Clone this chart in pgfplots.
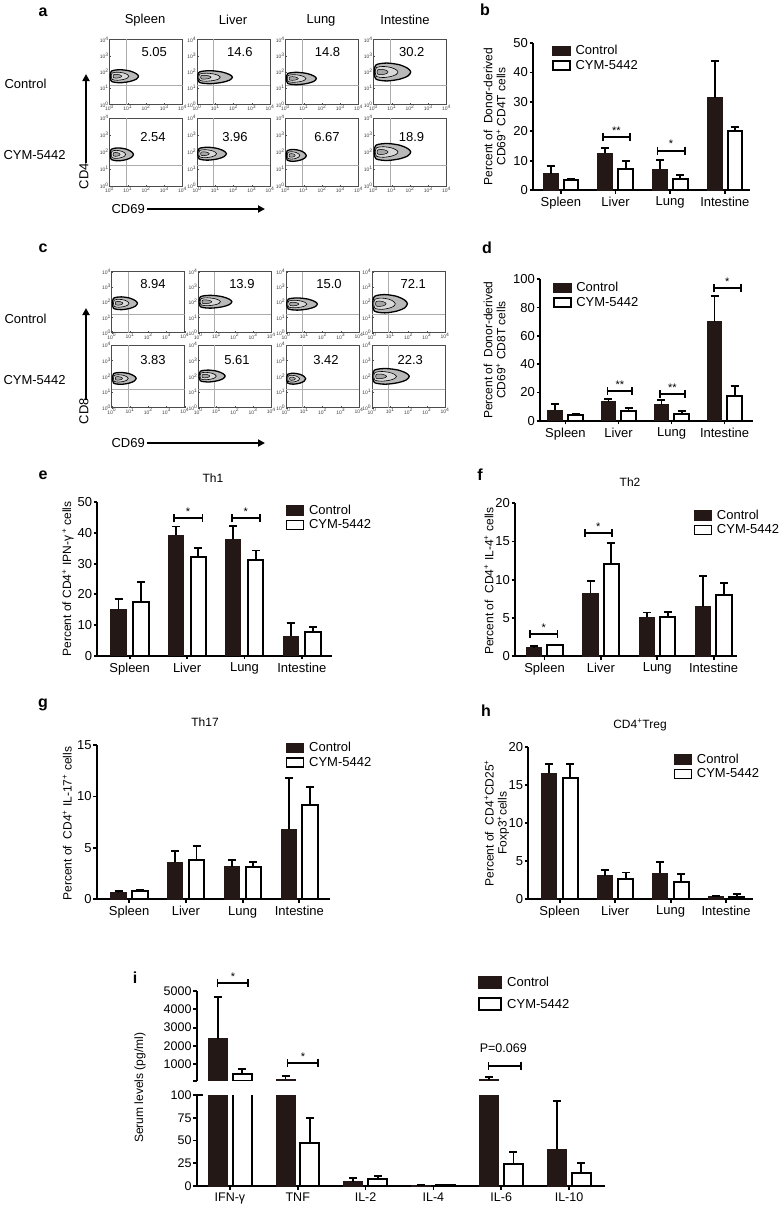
\documentclass[border=0pt]{standalone}
\usepackage{fontspec}
\setmainfont{Liberation Sans}
\usepackage{pgfplots}
\pgfplotsset{compat=1.18}
\usepackage{pgfplotstable}
\usetikzlibrary{arrows.meta}
\definecolor{ctrl}{RGB}{35,24,21}
\newcommand{\fs}[2]{\fontsize{#1}{#2}\selectfont}
\newcommand{\pl}{\textsuperscript{+}}
\newcommand{\tp}[1]{10\textsuperscript{#1}}

\pgfplotstableread{
x c ce m me
0 5.5 2.7 3.3 0.4
1 12.5 1.7 7.0 2.8
2 7.0 3.1 3.6 1.4
3 31.4 12.5 20.1 1.4
}\datab
\pgfplotstableread{
x c ce m me
0 7.5 4.1 4.2 0.5
1 13.4 1.7 7.1 1.9
2 11.3 3.3 4.7 1.9
3 70.0 18.4 17.7 6.8
}\datad
\pgfplotstableread{
x c ce m me
0 15.1 3.4 17.5 6.4
1 39.3 2.8 32.1 3.1
2 37.9 4.5 31.1 3.2
3 6.4 4.3 7.7 1.6
}\datae
\pgfplotstableread{
x c ce m me
0 1.09 0.21 1.4 0.08
1 8.2 1.6 12.0 2.8
2 5.07 0.63 5.15 0.65
3 6.46 4.04 8.0 1.6
}\dataf
\pgfplotstableread{
x c ce m me
0 0.65 0.13 0.78 0.12
1 3.6 1.1 3.8 1.35
2 3.17 0.63 3.1 0.5
3 6.8 4.96 9.17 1.78
}\datag
\pgfplotstableread{
x c ce m me
0 16.57 1.23 15.96 1.84
1 3.08 0.72 2.64 0.86
2 3.4 1.5 2.2 1.05
3 0.3 0.14 0.3 0.36
}\datah
\pgfplotstableread{
x c ce m me
0 2400 2273 472 255
1 190 160 47.6 27.5
2 4.8 3.6 7.3 4.1
3 0.8 0 0.8 0
4 150 170 23.8 13.2
5 40.3 53.1 14 11
}\datai
% normalised contour outline for the flow plots
\pgfplotstableread{
x y
0 0
0.05 -0.8
0.35 -1
0.7 -0.8
0.92 -0.45
1 0
0.92 0.4
0.7 0.8
0.35 1
0.05 0.8
0 0
}\blob

\tikzset{
  ctrlbar/.style={fill=ctrl, draw=ctrl, line width=1pt},
  cymbar/.style={fill=white, draw=black, line width=2pt},
  brk/.style={draw=black, line width=1.8pt, {Bar[width=8pt]}-{Bar[width=8pt]}},
  star/.style={font=\fs{11}{12}, inner sep=1pt},
}
\pgfplotsset{
  barax/.style={
    scale only axis, anchor=south west,
    axis lines=left,
    axis line style={-, line width=1.8pt},
    x axis line style={-}, y axis line style={-},
    every tick/.style={black, line width=1.8pt},
    tick align=outside,
    major tick length=3.5pt,
    xtick={0,1,2,3},
    xticklabels={Spleen,Liver,Lung,Intestine},
    ymin=0, clip=false,
    ybar, bar width=0.27,
    tick label style={font=\fs{13}{15}},
    yticklabel style={inner sep=1.5pt},
    /pgf/number format/assume math mode=true,
    ylabel style={font=\fs{12}{13}, align=center, anchor=center},
    legend image code/.code={\draw[##1,line width=1.6pt] (0pt,-4.5pt) rectangle (17pt,4.5pt); \path (20pt,0pt);},
    legend style={draw=none, fill=none, anchor=north west, font=\fs{13}{15}, row sep=1pt, inner sep=0pt, nodes={inner sep=1.5pt}},
    legend cell align=left,
    error bars/y dir=plus, error bars/y explicit,
    error bars/error bar style={line width=1.8pt, black},
    error bars/error mark options={rotate=90, mark size=4pt, line width=1.8pt, black},
  },
  flowax/.style={
    scale only axis, anchor=south west, width=73pt,
    xmin=0, xmax=4, ymin=0, ymax=4,
    axis line style={gray!60!black, line width=0.6pt},
    xtick={0,...,4}, ytick={0,...,4},
    xticklabels={\tp{0},\tp{1},\tp{2},\tp{3},\tp{4}},
    yticklabels={\tp{0},\tp{1},\tp{2},\tp{3},\tp{4}},
    xtick pos=left, ytick pos=left,
    tick label style={font=\fs{5}{6}, inner sep=0.6pt, text=gray!50!black},
    major tick length=1.5pt,
    every tick/.style={gray!60!black, line width=0.4pt},
    tick align=inside,
  },
}

% #1 left, #2 bottom, #3 height, #4 number, #5 #6 number position, #7 length, #8 centre, #9 half height
\newcommand{\flowbox}[9]{%
\begin{axis}[flowax, at={(#1pt,-#2pt)}, height=#3pt]
\draw[gray!65, line width=0.6pt] (axis cs:0.9,0) -- (axis cs:0.9,4);
\draw[gray!65, line width=0.6pt] (axis cs:0,1.2) -- (axis cs:4,1.2);
\addplot[draw=black, line width=1.3pt, fill=gray!55, smooth] table[x expr=0.04+\thisrow{x}*#7, y expr=#8+\thisrow{y}*#9] {\blob};
\addplot[draw=black, line width=0.6pt, fill=gray!30, smooth] table[x expr=0.1+\thisrow{x}*#7*0.62, y expr=#8+\thisrow{y}*#9*0.62] {\blob};
\addplot[draw=black, line width=0.5pt, fill=gray!70, smooth] table[x expr=0.2+\thisrow{x}*#7*0.3, y expr=#8+\thisrow{y}*#9*0.3] {\blob};
\node[font=\fs{13}{15}] at (axis cs:#5,#6) {#4};
\end{axis}}

\begin{document}
\begin{tikzpicture}
\useasboundingbox (0,0) rectangle (784pt,-1207pt);

% ---------------- panel a ----------------
\node[font=\fs{16}{18}\bfseries] at (43pt,-12pt) {a};
\node[font=\fs{13}{15}] at (145pt,-20pt) {Spleen};
\node[font=\fs{13}{15}] at (233pt,-20pt) {Liver};
\node[font=\fs{13}{15}] at (321pt,-20pt) {Lung};
\node[font=\fs{13}{15}] at (405pt,-20pt) {Intestine};
\node[anchor=west, font=\fs{13}{15}] at (1pt,-84pt) {Control};
\node[anchor=west, font=\fs{13}{15}] at (0pt,-155pt) {CYM-5442};
\draw[line width=1.8pt, -{Triangle[length=7pt,width=7pt]}] (86pt,-163pt) -- (86pt,-74pt);
\node[rotate=90, font=\fs{13}{15}] at (84pt,-176pt) {CD4};
\node[anchor=west, font=\fs{13}{15}] at (108pt,-209pt) {CD69};
\draw[line width=1.8pt, -{Triangle[length=7pt,width=7pt]}] (147pt,-209pt) -- (265pt,-209pt);

\flowbox{109.5}{104.5}{65}{5.05}{2.45}{3.23}{1.55}{1.74}{0.4}
\flowbox{197}{104.5}{65}{14.6}{2.35}{3.23}{1.9}{1.68}{0.4}
\flowbox{285.5}{104.5}{65}{14.8}{2.3}{3.23}{1.65}{1.6}{0.38}
\flowbox{373.5}{104.5}{65}{30.2}{2.1}{3.23}{2.0}{2.0}{0.55}
\flowbox{109.5}{186}{68}{2.54}{2.38}{2.9}{1.27}{1.86}{0.38}
\flowbox{197}{186}{68}{3.96}{2.08}{2.9}{1.57}{1.9}{0.38}
\flowbox{285.5}{186}{68}{6.67}{2.27}{2.9}{1.1}{1.8}{0.35}
\flowbox{373.5}{186}{68}{18.9}{2.08}{2.9}{2.0}{2.0}{0.5}

% ---------------- panel c ----------------
\node[font=\fs{16}{18}\bfseries] at (43pt,-248pt) {c};
\node[anchor=west, font=\fs{13}{15}] at (1pt,-319pt) {Control};
\node[anchor=west, font=\fs{13}{15}] at (0pt,-380pt) {CYM-5442};
\draw[line width=1.8pt, -{Triangle[length=7pt,width=7pt]}] (86pt,-400pt) -- (86pt,-308pt);
\node[rotate=90, font=\fs{13}{15}] at (84pt,-411pt) {CD8};
\node[anchor=west, font=\fs{13}{15}] at (108pt,-443pt) {CD69};
\draw[line width=1.8pt, -{Triangle[length=7pt,width=7pt]}] (147pt,-443pt) -- (265pt,-443pt);

\flowbox{111.7}{332.7}{61}{8.94}{2.26}{3.19}{1.37}{1.93}{0.42}
\flowbox{198.3}{332.7}{61}{13.9}{2.39}{3.19}{1.8}{2.03}{0.42}
\flowbox{286}{332.7}{61}{15.0}{2.36}{3.19}{1.68}{1.88}{0.4}
\flowbox{372}{332.7}{61}{72.1}{2.26}{3.19}{1.9}{1.9}{0.6}
\flowbox{111.7}{407.7}{62.7}{3.83}{2.26}{3.04}{1.3}{1.87}{0.38}
\flowbox{198.3}{407.7}{62.7}{5.61}{2.12}{3.04}{1.43}{2.02}{0.38}
\flowbox{286}{407.7}{62.7}{3.42}{2.19}{3.04}{1.04}{1.85}{0.35}
\flowbox{372}{407.7}{62.7}{22.3}{2.1}{3.04}{2.0}{2.0}{0.5}

% ---------------- panel b ----------------
\node[font=\fs{16}{18}\bfseries] at (485pt,-10pt) {b};
\begin{axis}[barax, at={(533pt,-190pt)}, width=217pt, height=147pt,
  xmin=-0.51, xmax=3.46, ymax=50, ytick={0,10,...,50},
  ylabel={Percent of\ \ Donor-derived\\CD69\pl{} CD4T cells},
  ylabel style={at={(axis description cs:-0.177,0.5)}},
  legend style={at={(0.088,0.995)}}]
\addplot[ctrlbar, bar shift=-0.186] table[x=x,y=c,y error=ce]{\datab};
\addplot[cymbar, bar shift=0.186] table[x=x,y=m,y error=me]{\datab};
\legend{Control,CYM-5442}
\draw[brk] (axis cs:0.755,17.95) -- node[above=1pt,star]{**} (axis cs:1.274,17.95);
\draw[brk] (axis cs:1.75,13.4) -- node[above=1pt,star]{*} (axis cs:2.28,13.4);
\end{axis}

% ---------------- panel d ----------------
\node[font=\fs{16}{18}\bfseries] at (487pt,-248pt) {d};
\begin{axis}[barax, at={(540pt,-420.7pt)}, width=212.7pt, height=141.4pt,
  xmin=-0.48, xmax=3.53, ymax=100, ytick={0,20,...,100}, bar width=0.28,
  ylabel={Percent of\ \ Donor-derived\\CD69\pl{} CD8T cells},
  ylabel style={at={(axis description cs:-0.214,0.5)}},
  legend style={at={(0.06,0.99)}}]
\addplot[ctrlbar, bar shift=-0.19] table[x=x,y=c,y error=ce]{\datad};
\addplot[cymbar, bar shift=0.19] table[x=x,y=m,y error=me]{\datad};
\legend{Control,CYM-5442}
\draw[brk] (axis cs:0.776,21) -- node[above=1pt,star]{**} (axis cs:1.277,21);
\draw[brk] (axis cs:1.766,18.9) -- node[above=1pt,star]{**} (axis cs:2.264,18.9);
\draw[brk] (axis cs:2.78,93.6) -- node[above=1pt,star]{*} (axis cs:3.32,93.6);
\end{axis}

% ---------------- panel e ----------------
\node[font=\fs{16}{18}\bfseries] at (43pt,-475pt) {e};
\node[font=\fs{12}{14}] at (213pt,-478pt) {Th1};
\begin{axis}[barax, at={(97.3pt,-655.7pt)}, width=234.4pt, height=153.4pt,
  xmin=-0.565, xmax=3.52, ymax=50, ytick={0,10,...,50}, bar width=0.267,
  ylabel={Percent of CD4\pl{} IPN-γ\,\pl{} cells},
  ylabel style={at={(axis description cs:-0.125,0.5)}},
  legend style={at={(0.803,0.995)}}]
\addplot[ctrlbar, bar shift=-0.195] table[x=x,y=c,y error=ce]{\datae};
\addplot[cymbar, bar shift=0.195] table[x=x,y=m,y error=me]{\datae};
\legend{Control,CYM-5442}
\draw[brk] (axis cs:0.75,44.8) -- node[above=1pt,star]{*} (axis cs:1.284,44.8);
\draw[brk] (axis cs:1.763,44.8) -- node[above=1pt,star]{*} (axis cs:2.286,44.8);
\end{axis}

% ---------------- panel f ----------------
\node[font=\fs{16}{18}\bfseries] at (480pt,-475pt) {f};
\node[font=\fs{12}{14}] at (630pt,-482pt) {Th2};
\begin{axis}[barax, at={(515pt,-656pt)}, width=221.7pt, height=152.7pt,
  xmin=-0.524, xmax=3.41, ymax=20, ytick={0,5,...,20}, bar width=0.272,
  ylabel={Percent of\ \ CD4\pl{} IL-4\pl{} cells},
  ylabel style={at={(axis description cs:-0.118,0.49)}},
  legend style={at={(0.805,0.968)}}]
\addplot[ctrlbar, bar shift=-0.184] table[x=x,y=c,y error=ce]{\dataf};
\addplot[cymbar, bar shift=0.184] table[x=x,y=m,y error=me]{\dataf};
\legend{Control,CYM-5442}
\draw[brk] (axis cs:-0.27,2.88) -- node[above=1pt,star]{*} (axis cs:0.245,2.88);
\draw[brk] (axis cs:0.70,16.07) -- node[above=1pt,star]{*} (axis cs:1.21,16.07);
\end{axis}

% ---------------- panel g ----------------
\node[font=\fs{16}{18}\bfseries] at (43pt,-705pt) {g};
\node[font=\fs{12}{14}] at (205pt,-722pt) {Th17};
\begin{axis}[barax, at={(96.7pt,-899.3pt)}, width=233.3pt, height=154.3pt,
  xmin=-0.573, xmax=3.54, ymax=15, ytick={0,5,...,15}, bar width=0.27,
  ylabel={Percent of\ \ CD4\pl{} IL-17\pl{} cells},
  ylabel style={at={(axis description cs:-0.126,0.49)}},
  legend style={at={(0.81,1.028)}}]
\addplot[ctrlbar, bar shift=-0.188] table[x=x,y=c,y error=ce]{\datag};
\addplot[cymbar, bar shift=0.188] table[x=x,y=m,y error=me]{\datag};
\legend{Control,CYM-5442}
\end{axis}

% ---------------- panel h ----------------
\node[font=\fs{16}{18}\bfseries] at (486pt,-711pt) {h};
\node[font=\fs{12}{14}] at (640pt,-725pt) {CD4\pl{}Treg};
\begin{axis}[barax, at={(528.3pt,-899pt)}, width=225pt, height=151.7pt,
  xmin=-0.566, xmax=3.49, ymax=20, ytick={0,5,...,20}, bar width=0.27,
  ylabel={Percent of\ \ CD4\pl{}CD25\pl{}\\Foxp3\pl{}cells},
  ylabel style={at={(axis description cs:-0.14,0.5)}},
  legend style={at={(0.645,0.968)}}]
\addplot[ctrlbar, bar shift=-0.19] table[x=x,y=c,y error=ce]{\datah};
\addplot[cymbar, bar shift=0.19] table[x=x,y=m,y error=me]{\datah};
\legend{Control,CYM-5442}
\end{axis}

% ---------------- panel i ----------------
\node[font=\fs{16}{18}\bfseries] at (135pt,-978pt) {i};
\begin{axis}[barax, at={(196.7pt,-1080.7pt)}, width=408.3pt, height=89.7pt,
  xmin=-0.49, xmax=5.53, ymin=100, ymax=5000,
  restrict y to domain=100:100000,
  ytick={100,1000,2000,3000,4000,5000}, yticklabels={,1000,2000,3000,4000,5000},
  hide x axis, bar width=0.28, clip=true, clip mode=individual,
  tick label style={font=\fs{12.5}{14}},
  legend image code/.code={\draw[#1,line width=1.8pt] (0pt,-6pt) rectangle (22pt,6pt); \path (26pt,0pt);},
  legend style={at={(0.688,1.175)}, row sep=8pt}]
\addplot[ctrlbar, bar shift=-0.18] table[x=x,y=c,y error=ce]{\datai};
\addplot[cymbar, bar shift=0.18] table[x=x,y=m,y error=me]{\datai};
\legend{Control,CYM-5442}
\draw[brk] (axis cs:-0.196,5420) -- node[above=1pt,star]{*} (axis cs:0.285,5420);
\draw[brk] (axis cs:0.836,1055) -- node[above=1pt,star]{*} (axis cs:1.317,1055);
\draw[brk] (axis cs:3.80,924) -- (axis cs:4.30,924);
\node[font=\fs{12.5}{14}] at (axis cs:4.03,1890) {P=0.069};
\end{axis}
\begin{axis}[barax, at={(196.7pt,-1186pt)}, width=408.3pt, height=91pt,
  xmin=-0.49, xmax=5.53, ymin=0, ymax=100, ytick={0,25,50,75,100},
  xtick={0,...,5}, xticklabels={IFN-γ,TNF,IL-2,IL-4,IL-6,IL-10},
  bar width=0.28, clip=true, clip mode=individual,
  tick label style={font=\fs{12.5}{14}},
  ylabel={Serum levels (pg/ml)},
  ylabel style={at={(axis description cs:-0.139,1.08)}}]
\addplot[ctrlbar, bar shift=-0.18] table[x=x,y=c,y error=ce]{\datai};
\addplot[cymbar, bar shift=0.18] table[x=x,y=m,y error=me]{\datai};
\draw[line width=1.8pt] (axis cs:-0.49,100) -- ++(6pt,0pt);
\end{axis}
\end{tikzpicture}
\end{document}
